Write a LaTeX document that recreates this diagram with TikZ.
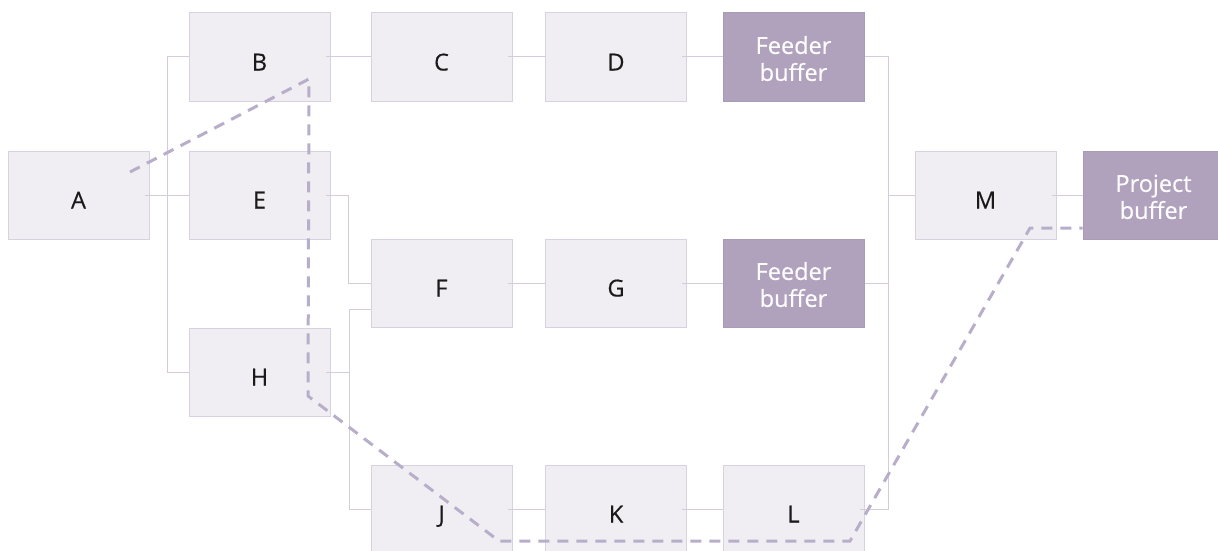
\documentclass[tikz,border=0pt]{standalone}
\usepackage{fontspec}
\setmainfont{Open Sans}
\newfontfamily\labelfont{Open Sans}[FakeBold=0.35]
\definecolor{boxfill}{HTML}{F0EEF3}
\definecolor{boxline}{HTML}{D8D2E0}
\definecolor{buffill}{HTML}{B0A2BD}
\definecolor{bufline}{HTML}{A99BB7}
\definecolor{linkcol}{HTML}{D4CCDD}
\definecolor{critcol}{HTML}{B9AECA}
\definecolor{ink}{HTML}{1A1A1A}
\begin{document}
\begin{tikzpicture}[x=1pt,y=-1pt,
  box/.style={draw=boxline, fill=boxfill, line width=1pt,
    minimum width=141pt, minimum height=88pt, inner sep=0pt,
    font=\labelfont\fontsize{23.5}{27}\selectfont, text=ink,
    text height=27pt, text depth=0pt},
  buffer/.style={draw=bufline, fill=buffill, line width=1pt,
    minimum width=141pt, minimum height=88pt, inner sep=0pt,
    font=\labelfont\fontsize{23.5}{27}\selectfont, text=white!97!buffill, align=center},
  conn/.style={draw=linkcol, line width=1pt},
  critical/.style={draw=critcol, line width=3pt, dash pattern=on 11pt off 8pt}]
\useasboundingbox (0,0) rectangle (1218,551);
\clip (0,0) rectangle (1218,551);
\fill[white] (0,0) rectangle (1218,551);

% tasks and buffers
\node[box] (A) at (78.5,195) {A};
\node[box] (B) at (259.5,57) {B};
\node[box] (C) at (441.5,57) {C};
\node[box] (D) at (616,57) {D};
\node[buffer] (FB1) at (793.5,57) {\rule{0pt}{21pt}Feeder\\buffer};
\node[box] (E) at (259.5,195) {E};
\node[box] (F) at (441.5,283) {F};
\node[box] (G) at (616,283) {G};
\node[buffer] (FB2) at (793.5,283) {\rule{0pt}{21pt}Feeder\\buffer};
\node[box] (H) at (259.5,372) {H};
\node[box] (J) at (441.5,509) {J};
\node[box] (K) at (616,509) {K};
\node[box] (L) at (793.5,509) {L};
\node[box] (M) at (985.5,195) {M};
\node[buffer] (PB) at (1153.5,195) {\rule{0pt}{21pt}Project\\buffer};

% dependencies
\draw[conn] ([xshift=-5pt]A.east) -- (E.west);
\draw[conn] ([xshift=-5pt]A.east) -- ++(23,0) |- (B.west);
\draw[conn] ([xshift=-5pt]A.east) -- ++(23,0) |- (H.west);
\draw[conn] ([xshift=-5pt]B.east) -- (C.west);
\draw[conn] ([xshift=-5pt]C.east) -- (D.west);
\draw[conn] ([xshift=-5pt]D.east) -- (FB1.west);
\draw[conn] ([xshift=-5pt]E.east) -- ++(23,0) |- (F.west);
\draw[conn] ([xshift=-5pt]H.east) -- ++(24,0) |- ([yshift=-26pt]F.west);
\draw[conn] ([xshift=-5pt]H.east) -- ++(24,0) |- (J.west);
\draw[conn] ([xshift=-5pt]F.east) -- (G.west);
\draw[conn] ([xshift=-5pt]G.east) -- (FB2.west);
\draw[conn] ([xshift=-5pt]J.east) -- (K.west);
\draw[conn] ([xshift=-5pt]K.east) -- (L.west);
\draw[conn] (FB1.east) -- ++(24,0) |- (M.west);
\draw[conn] (FB2.east) -- ++(24,0) |- (M.west);
\draw[conn] ([xshift=-5pt]L.east) -- ++(29,0) |- (M.west);
\draw[conn] ([xshift=-5pt]M.east) -- (PB.west);

% critical chain
\coordinate (p1) at (130,172);
\coordinate (p2) at (309,79);
\coordinate (p3) at (308,396);
\coordinate (p4) at (499,541);
\coordinate (p5) at (850,541);
\coordinate (p6) at (1030,228);
\draw[critical] (p1) -- (p2) -- (p3) -- (p4) -- (p5) -- (p6) -- (PB.west |- p6);
\end{tikzpicture}
\end{document}
